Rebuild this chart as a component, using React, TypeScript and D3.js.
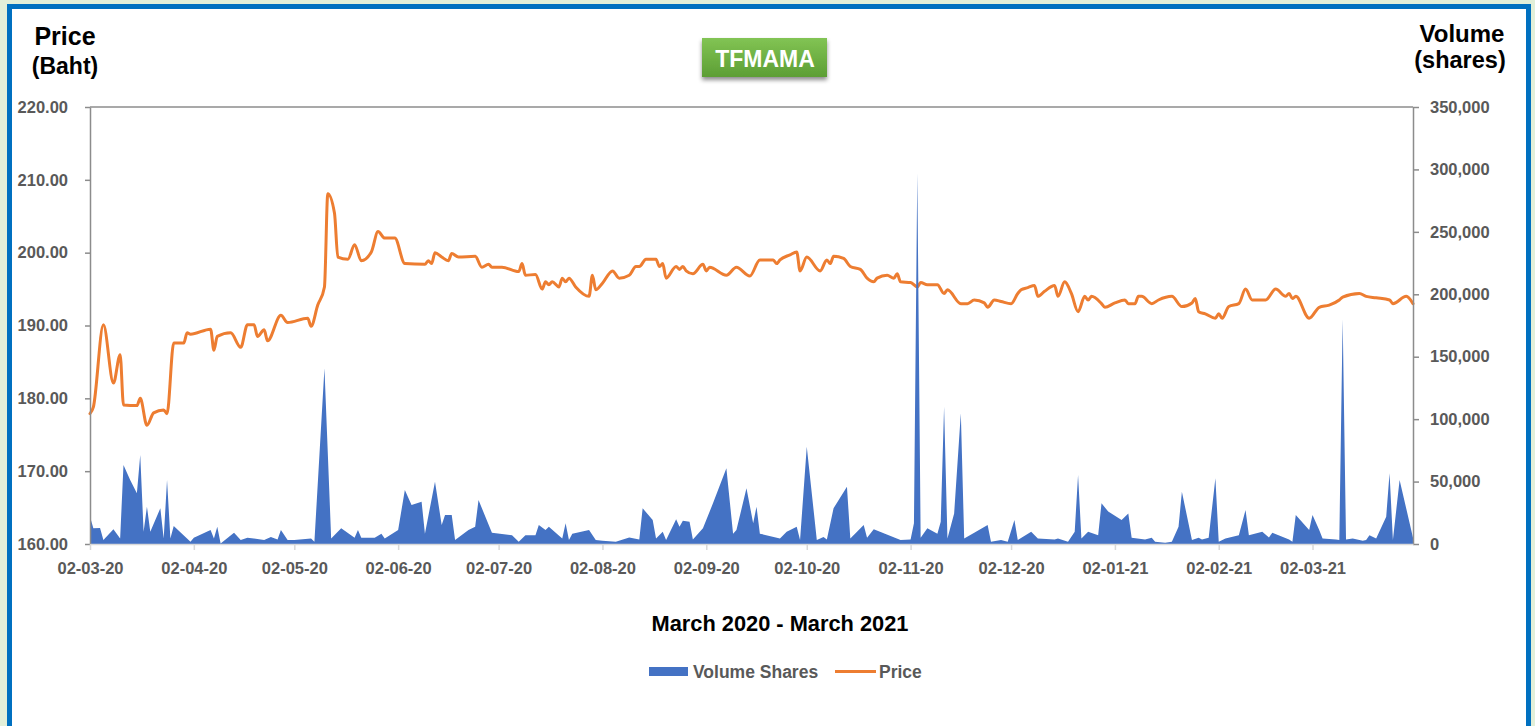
import React, { useEffect, useRef } from 'react';
import * as d3 from 'd3';

// day = number of days after 02-03-20 (first trading day on the chart)
const startDate = new Date(Date.UTC(2020, 2, 2));
const lastDay = 395;

// price (Baht): [day, price]
const priceData: [number, number][] = [
  [0, 177.9], [1, 178.8], [4, 190.1], [7, 182.1], [9, 186.0], [10, 179.1], [14, 179.0], [15, 180.0],
  [17, 176.3], [19, 178.0], [22, 178.4], [23, 177.9], [25, 187.6], [28, 187.6], [29, 189.0], [30, 188.8],
  [36, 189.5], [37, 186.6], [38, 188.5], [42, 189.0], [45, 187.0], [47, 190.1], [49, 190.1], [50, 188.5],
  [52, 189.4], [53, 187.9], [57, 191.4], [59, 190.4], [65, 191.0], [66, 189.9], [68, 192.8], [70, 195.3],
  [71, 208.1], [73, 205.4], [74, 199.4], [77, 199.1], [79, 201.1], [81, 198.9], [84, 200.1], [86, 202.9],
  [88, 202.0], [91, 202.0], [94, 198.5], [100, 198.4], [101, 198.9], [102, 198.5], [103, 200.0], [105, 199.4],
  [107, 198.9], [108, 199.9], [110, 199.4], [115, 199.5], [117, 198.0], [119, 198.4], [120, 198.0], [123, 198.0],
  [128, 197.4], [129, 198.5], [130, 196.9], [133, 197.0], [135, 195.0], [136, 196.0], [137, 195.6], [138, 196.0],
  [140, 195.3], [141, 196.5], [142, 196.0], [143, 196.5], [145, 195.3], [149, 194.0], [150, 196.9], [151, 194.9],
  [153, 195.8], [156, 197.5], [158, 196.5], [161, 196.9], [163, 198.1], [164, 198.1], [166, 199.1], [169, 199.1],
  [170, 198.1], [171, 198.5], [172, 196.5], [175, 198.1], [176, 197.7], [177, 198.1], [178, 197.5], [180, 197.1],
  [183, 198.4], [184, 197.5], [185, 198.0], [190, 196.9], [193, 198.0], [197, 196.8], [200, 199.0], [204, 199.0],
  [205, 198.5], [206, 199.0], [209, 199.7], [211, 200.1], [212, 197.5], [214, 199.4], [218, 197.5], [220, 199.0],
  [221, 198.5], [222, 199.5], [225, 199.2], [227, 198.1], [230, 197.7], [232, 196.5], [234, 196.0], [235, 196.5],
  [238, 196.9], [240, 196.5], [241, 197.1], [242, 196.0], [245, 195.9], [247, 195.3], [248, 195.9], [250, 195.6],
  [253, 195.6], [255, 194.4], [256, 194.9], [260, 193.0], [262, 193.0], [264, 193.5], [267, 193.1], [268, 192.5],
  [270, 193.5], [272, 193.3], [275, 193.0], [277, 194.4], [278, 194.9], [280, 195.2], [282, 195.5], [283, 194.0],
  [285, 194.7], [288, 195.5], [289, 194.0], [291, 196.0], [293, 194.4], [295, 191.9], [297, 194.0], [298, 193.5],
  [299, 194.0], [302, 193.0], [303, 192.5], [306, 193.1], [309, 193.5], [310, 193.0], [312, 193.0], [313, 194.0],
  [314, 194.0], [317, 193.0], [319, 193.5], [323, 194.0], [326, 192.6], [329, 193.1], [330, 193.7], [331, 191.9],
  [333, 191.6], [336, 191.0], [337, 191.6], [338, 191.0], [340, 192.6], [343, 193.0], [345, 195.0], [347, 193.5],
  [351, 193.5], [354, 195.0], [357, 194.0], [358, 194.4], [359, 193.7], [360, 194.0], [364, 191.0], [367, 192.5],
  [370, 192.8], [373, 193.5], [374, 193.9], [379, 194.4], [381, 194.0], [384, 193.8], [388, 193.5], [389, 193.0],
  [393, 194.0], [395, 193.0],
];

// traded volume (shares): [day, shares]
const volumeData: [number, number][] = [
  [0, 21900], [1, 12600], [3, 12800], [4, 3200], [7, 11800], [9, 4500], [10, 63300], [12, 51300],
  [14, 40600], [15, 71300], [16, 9900], [17, 29900], [18, 9900], [21, 28600], [22, 4500], [23, 51300],
  [24, 4500], [25, 14400], [30, 1900], [31, 5100], [36, 11200], [37, 4500], [38, 13900], [39, 500],
  [43, 9100], [45, 3200], [47, 5100], [52, 3200], [54, 5600], [56, 3700], [57, 11200], [59, 3200],
  [61, 3200], [66, 4500], [67, 1900], [70, 140700], [72, 4500], [75, 12600], [79, 5100], [80, 11200],
  [81, 5100], [85, 5100], [87, 8300], [88, 4500], [92, 11200], [94, 43300], [96, 31200], [99, 33900],
  [100, 8300], [103, 49900], [105, 15200], [106, 23200], [108, 23200], [109, 3200], [113, 11200], [115, 13900],
  [116, 35200], [120, 9100], [126, 7000], [128, 1900], [130, 7000], [133, 7000], [134, 15200], [136, 11200],
  [137, 13900], [141, 4500], [142, 16600], [143, 3200], [144, 8300], [149, 11200], [151, 3200], [153, 2600],
  [157, 1900], [161, 5300], [164, 3700], [165, 28600], [168, 19200], [169, 4500], [171, 9900], [172, 3200],
  [175, 19800], [176, 13900], [177, 18700], [179, 17900], [180, 3700], [183, 12600], [186, 32600], [190, 60600],
  [192, 8300], [193, 11200], [196, 44600], [198, 16600], [199, 29900], [200, 8300], [206, 4500], [208, 9900],
  [211, 13900], [212, 3200], [214, 77900], [217, 3200], [219, 5600], [220, 3700], [222, 28600], [226, 45900],
  [227, 4500], [231, 15200], [232, 5100], [234, 11800], [242, 3200], [245, 3700], [246, 16600], [247, 297000],
  [248, 5100], [250, 12600], [253, 8300], [254, 17900], [255, 110000], [256, 4500], [258, 24500], [260, 104700],
  [261, 4500], [264, 9100], [268, 15200], [269, 1900], [272, 3200], [274, 1900], [276, 19200], [277, 3200],
  [281, 9900], [283, 4500], [288, 3700], [289, 4500], [292, 1900], [294, 9900], [295, 55300], [296, 4500],
  [298, 9900], [301, 7000], [302, 32600], [304, 26000], [308, 19200], [309, 21900], [310, 24500], [311, 5100],
  [315, 3700], [317, 5100], [318, 1900], [321, 1100], [323, 1900], [325, 13900], [326, 41900], [329, 3200],
  [331, 5100], [332, 3700], [334, 5100], [336, 52600], [337, 1900], [339, 4500], [343, 7000], [345, 27200],
  [346, 7000], [350, 9900], [352, 5300], [353, 9100], [358, 3700], [359, 1900], [360, 23200], [364, 11200],
  [365, 23200], [367, 11200], [368, 4500], [372, 3700], [373, 3200], [374, 180000], [375, 3700], [377, 4500],
  [380, 2600], [381, 3200], [382, 7000], [384, 4500], [387, 21900], [388, 56600], [389, 3200], [391, 51300],
  [395, 5100],
];

const priceTicks = [160, 170, 180, 190, 200, 210, 220];
const volumeTicks = [0, 50000, 100000, 150000, 200000, 250000, 300000, 350000];
const monthTicks = [
  '2020-03-02', '2020-04-02', '2020-05-02', '2020-06-02', '2020-07-02', '2020-08-02', '2020-09-02',
  '2020-10-02', '2020-11-02', '2020-12-02', '2021-01-02', '2021-02-02', '2021-03-02',
];

const FONT = "'Liberation Sans', Arial, sans-serif";
const ORANGE = '#ed7d31';
const BLUE = '#4472c4';
const GREY_TEXT = '#595959';

const App = () => {
  const ref = useRef(null);

  useEffect(() => {
    const svg = d3.select(ref.current);
    svg.selectAll('*').remove();

    const W = 1535;
    const H = 726;
    const left = 90;
    const right = 1413;
    const top = 107;
    const bottom = 544;

    const toDate = (d: number) => d3.utcDay.offset(startDate, d);

    const x = d3.scaleUtc().domain([startDate, toDate(lastDay)]).range([left, right]);
    const yPrice = d3.scaleLinear().domain([160, 220]).range([bottom, top]);
    const yVol = d3.scaleLinear().domain([0, 350000]).range([bottom, top]);

    // frame: light green page, blue border, white card
    svg.append('rect').attr('width', W).attr('height', H).attr('fill', '#e2efd9');
    svg
      .append('rect')
      .attr('x', 9.5)
      .attr('y', 6.5)
      .attr('width', 1519)
      .attr('height', 740)
      .attr('fill', '#ffffff')
      .attr('stroke', '#0070c0')
      .attr('stroke-width', 5);

    const defs = svg.append('defs');
    const grad = defs
      .append('linearGradient')
      .attr('id', 'boxGrad')
      .attr('x1', 0)
      .attr('y1', 0)
      .attr('x2', 0)
      .attr('y2', 1);
    grad.append('stop').attr('offset', '0%').attr('stop-color', '#82c454');
    grad.append('stop').attr('offset', '100%').attr('stop-color', '#5c9e34');
    const shadow = defs
      .append('filter')
      .attr('id', 'boxShadow')
      .attr('x', '-20%')
      .attr('y', '-20%')
      .attr('width', '140%')
      .attr('height', '160%');
    shadow
      .append('feDropShadow')
      .attr('dx', 0)
      .attr('dy', 3)
      .attr('stdDeviation', 2)
      .attr('flood-color', '#000')
      .attr('flood-opacity', 0.45);

    // title badge
    svg
      .append('rect')
      .attr('x', 702)
      .attr('y', 38)
      .attr('width', 125)
      .attr('height', 39)
      .attr('fill', 'url(#boxGrad)')
      .attr('filter', 'url(#boxShadow)');
    svg
      .append('text')
      .attr('x', 765)
      .attr('y', 67)
      .attr('text-anchor', 'middle')
      .attr('font-family', FONT)
      .attr('font-weight', 700)
      .attr('font-size', 23)
      .attr('fill', '#ffffff')
      .text('TFMAMA');

    // axis titles
    const title = (tx: number, ty: number, size: number, txt: string) =>
      svg
        .append('text')
        .attr('x', tx)
        .attr('y', ty)
        .attr('text-anchor', 'middle')
        .attr('font-family', FONT)
        .attr('font-weight', 700)
        .attr('font-size', size)
        .attr('fill', '#000000')
        .text(txt);
    title(65, 45, 25, 'Price');
    title(65, 74, 23, '(Baht)');
    title(1462, 42, 24, 'Volume');
    title(1460, 68, 23.5, '(shares)');
    title(780, 631, 21.8, 'March 2020 - March 2021');

    // price line under the volume area
    const line = d3
      .line<[number, number]>()
      .x((d) => x(toDate(d[0])))
      .y((d) => yPrice(d[1]))
      .curve(d3.curveMonotoneX);
    svg
      .append('path')
      .datum(priceData)
      .attr('d', line)
      .attr('fill', 'none')
      .attr('stroke', ORANGE)
      .attr('stroke-width', 3)
      .attr('stroke-linejoin', 'round')
      .attr('stroke-linecap', 'round');

    const area = d3
      .area<[number, number]>()
      .x((d) => x(toDate(d[0])))
      .y0(yVol(0))
      .y1((d) => yVol(d[1]));
    svg.append('path').datum(volumeData).attr('d', area).attr('fill', BLUE);

    // top border of plot area
    svg
      .append('line')
      .attr('x1', left)
      .attr('x2', right)
      .attr('y1', top)
      .attr('y2', top)
      .attr('stroke', '#8c8c8c')
      .attr('stroke-width', 1.3);

    const styleAxis = (g: any, col: string) => {
      g.selectAll('path').attr('stroke', col).attr('stroke-width', 1.5);
      g.selectAll('line').attr('stroke', col).attr('stroke-width', 1.5);
      g.selectAll('text')
        .attr('font-family', FONT)
        .attr('font-weight', 700)
        .attr('font-size', 16.5)
        .attr('fill', GREY_TEXT);
    };

    // left price axis
    const gl = svg
      .append('g')
      .attr('transform', `translate(${left},0)`)
      .call(
        d3
          .axisLeft(yPrice)
          .tickValues(priceTicks)
          .tickFormat(d3.format('.2f'))
          .tickSize(5)
          .tickSizeOuter(0)
          .tickPadding(17)
      );
    styleAxis(gl, '#8c8c8c');

    // right volume axis
    const gr = svg
      .append('g')
      .attr('transform', `translate(${right},0)`)
      .call(
        d3
          .axisRight(yVol)
          .tickValues(volumeTicks)
          .tickFormat(d3.format(','))
          .tickSize(6)
          .tickSizeOuter(0)
          .tickPadding(11)
      );
    styleAxis(gr, '#8c8c8c');

    // bottom date axis
    const parse = d3.utcParse('%Y-%m-%d');
    const gb = svg
      .append('g')
      .attr('transform', `translate(0,${bottom})`)
      .call(
        d3
          .axisBottom(x)
          .tickValues(monthTicks.map((s) => parse(s)))
          .tickFormat(d3.utcFormat('%d-%m-%y'))
          .tickSize(6)
          .tickSizeOuter(0)
          .tickPadding(12)
      );
    styleAxis(gb, '#d9d9d9');

    // legend
    const lg = svg.append('g');
    lg.append('rect').attr('x', 649).attr('y', 667).attr('width', 39).attr('height', 9).attr('fill', BLUE);
    lg.append('line')
      .attr('x1', 835)
      .attr('x2', 876)
      .attr('y1', 671.5)
      .attr('y2', 671.5)
      .attr('stroke', ORANGE)
      .attr('stroke-width', 3);
    [
      [693, 'Volume Shares'],
      [879, 'Price'],
    ].forEach(([lx, txt]) => {
      lg.append('text')
        .attr('x', lx)
        .attr('y', 677.5)
        .attr('font-family', FONT)
        .attr('font-weight', 700)
        .attr('font-size', 17.5)
        .attr('fill', GREY_TEXT)
        .text(txt as string);
    });
  }, []);

  return (
    <svg
      ref={ref}
      width={1535}
      height={726}
      style={{ position: 'absolute', left: 0, top: 0, display: 'block' }}
    />
  );
};

export default App;
